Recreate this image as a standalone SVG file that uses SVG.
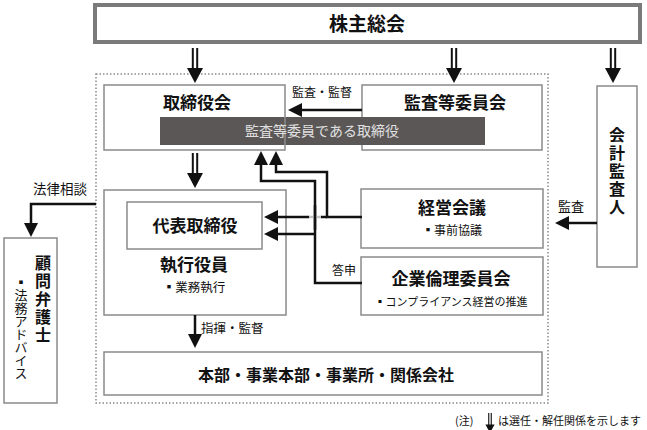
<svg xmlns="http://www.w3.org/2000/svg" xmlns:xlink="http://www.w3.org/1999/xlink" width="647" height="430" viewBox="0 0 647 430">
<style>
text{font-family:"Noto Sans CJK JP","Noto Sans CJK SC",sans-serif;fill:#111}
.box{fill:#fff;stroke:#8a8a8a;stroke-width:1.5}
.h{font-size:17px;font-weight:bold;text-anchor:middle}
.s{font-size:12.5px;text-anchor:middle}
.lbl{font-size:12.5px}
.ln{fill:none;stroke:#111;stroke-width:2.5}
.vt{writing-mode:vertical-rl}
</style>
<defs>
<marker id="ah" viewBox="0 0 14 14" markerWidth="14" markerHeight="14" refX="0" refY="7" orient="auto" markerUnits="userSpaceOnUse">
<path d="M0,0 L14,7 L0,14 z" fill="#111"/>
</marker>
<g id="dbl">
<line x1="-2.2" y1="0" x2="-2.2" y2="21" stroke="#111" stroke-width="2"/>
<line x1="2.2" y1="0" x2="2.2" y2="21" stroke="#111" stroke-width="2"/>
<path d="M-8,20 L8,20 L0,35 z" fill="#111"/>
</g>
</defs>

<rect x="96" y="74" width="452" height="329" fill="none" stroke="#8a8a8a" stroke-width="1.5" stroke-dasharray="1.5 2"/>

<g id="shareholders">
<rect x="95" y="5" width="545" height="37" fill="#fff" stroke="#7a7a7a" stroke-width="4"/>
<text x="367" y="31" style="font-size:19px;font-weight:bold;text-anchor:middle">株主総会</text>
</g>

<g id="board">
<rect class="box" x="104" y="85" width="181" height="65"/>
<text class="h" x="197" y="109">取締役会</text>
</g>

<g id="audit-committee">
<rect class="box" x="362" y="85" width="180" height="65"/>
<text class="h" x="455" y="109">監査等委員会</text>
</g>

<g id="audit-directors">
<rect x="160" y="117" width="325" height="28" fill="#5b5757"/>
<line x1="285" y1="117" x2="285" y2="145" stroke="#9a9a9a" stroke-width="1.2"/>
<text x="322" y="136" style="font-size:14px;text-anchor:middle;fill:#e0e0e0">監査等委員である取締役</text>
</g>

<g id="executives">
<rect class="box" x="104" y="190" width="182" height="125"/>
<text class="h" x="194" y="271">執行役員</text>
<text class="s" x="194" y="292" style="font-size:12.5px">▪業務執行</text>
</g>

<g id="representative">
<rect class="box" x="127" y="202" width="135" height="47"/>
<text class="h" x="195" y="232">代表取締役</text>
</g>

<g id="management-meeting">
<rect class="box" x="361" y="189" width="182" height="59"/>
<text class="h" x="452" y="214">経営会議</text>
<text class="s" x="452" y="235" style="font-size:12px">▪事前協議</text>
</g>

<g id="ethics-committee">
<rect class="box" x="361" y="257" width="182" height="58"/>
<text class="h" x="451" y="285">企業倫理委員会</text>
<text class="s" x="451" y="306" style="font-size:11px">▪コンプライアンス経営の推進</text>
</g>

<g id="divisions">
<rect class="box" x="104" y="352" width="438" height="43"/>
<text x="326" y="381" style="font-size:16px;font-weight:bold;text-anchor:middle">本部・事業本部・事業所・関係会社</text>
</g>

<g id="auditor">
<rect class="box" x="597" y="86" width="40" height="181"/>
<text class="vt" x="617" y="127" style="font-size:16px;font-weight:bold;letter-spacing:2px">会計監査人</text>
</g>

<g id="lawyer">
<rect class="box" x="4" y="238" width="53" height="165"/>
<text class="vt" x="43" y="255" style="font-size:16px;font-weight:bold;letter-spacing:2px">顧問弁護士</text>
<text class="vt" x="21" y="276" style="font-size:13px">▪法務アドバイス</text>
</g>

<g id="connectors">
<use xlink:href="#dbl" transform="translate(195,48)"/>
<use xlink:href="#dbl" transform="translate(454,48)"/>
<use xlink:href="#dbl" transform="translate(613,48)"/>
<use xlink:href="#dbl" transform="translate(195,153)"/>
<path class="ln" d="M362,110 H302" marker-end="url(#ah)"/>
<text class="lbl" x="292" y="97" style="font-size:12px">監査・監督</text>
<path class="ln" d="M597,223 H569" marker-end="url(#ah)"/>
<text class="lbl" x="558" y="211" style="font-size:13px">監査</text>
<path class="ln" d="M96,204 H31 V223" marker-end="url(#ah)"/>
<text class="lbl" x="33" y="194" style="font-size:13.5px">法律相談</text>
<path class="ln" d="M195,315 V334" marker-end="url(#ah)"/>
<text class="lbl" x="201" y="333">指揮・監督</text>
<path class="ln" d="M362,283 H315 V181 H261 V165" marker-end="url(#ah)"/>
<path class="ln" d="M315,234 H278" marker-end="url(#ah)"/>
<text class="lbl" x="332" y="275" style="font-size:12px">答申</text>
<path class="ln" d="M362,217 H327 V172 H276 V165" marker-end="url(#ah)"/>
<line x1="309" y1="217" x2="322" y2="217" stroke="#c4c4c4" stroke-width="2.5"/>
<line x1="327" y1="217" x2="321" y2="217" stroke="#111" stroke-width="2.5"/>
<path class="ln" d="M309,217 H278" marker-end="url(#ah)"/>
<line x1="315" y1="205" x2="315" y2="230" stroke="#111" stroke-width="2.5"/>
</g>

<g id="note">
<text x="455" y="425" style="font-size:11px">(注)</text>
<use xlink:href="#dbl" transform="translate(490,413) scale(0.57)"/>
<text x="498" y="425" style="font-size:11px">は選任・解任関係を示します</text>
</g>
</svg>
